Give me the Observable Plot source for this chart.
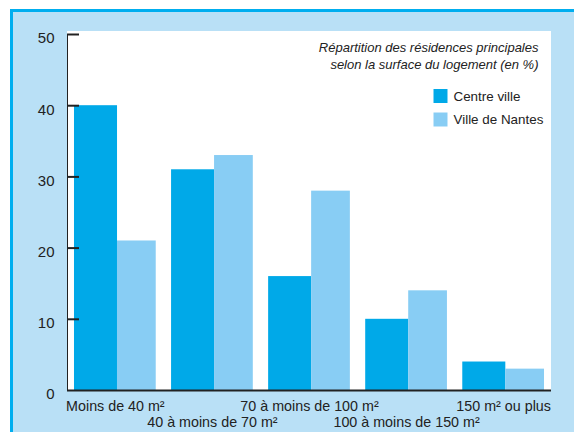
<!DOCTYPE html>
<html>
<head>
<meta charset="utf-8">
<script src="https://cdn.jsdelivr.net/npm/d3@7"></script>
<script src="https://cdn.jsdelivr.net/npm/@observablehq/plot@0.6"></script>
<style>
  html, body { margin: 0; padding: 0; background: #ffffff; }
  #wrap { position: relative; width: 574px; height: 432px; overflow: hidden; font-family: "Liberation Sans", Arial, sans-serif; }
  #frame { position: absolute; left: 10px; top: 9px; width: 600px; height: 460px; box-sizing: border-box;
           border-left: 3px solid #00aeef; border-top: 3px solid #00aeef; background: #b9e0f6; }
  #panel { position: absolute; left: 67px; top: 31px; width: 484px; height: 359px; background: #ffffff; }
  #chart { position: absolute; left: 0; top: 0; }
</style>
</head>
<body>
<div id="wrap">
  <div id="frame"></div>
  <div id="panel"></div>
  <div id="chart"></div>
</div>
<script>
const categories = ["Moins de 40 m²", "40 à moins de 70 m²", "70 à moins de 100 m²", "100 à moins de 150 m²", "150 m² ou plus"];
const centreVille = [40, 31, 16, 10, 4];
const villeDeNantes = [21, 33, 28, 14, 3];
const seriesNames = ["Centre ville", "Ville de Nantes"];
const yTicks = [0, 10, 20, 30, 40, 50];
const titleLines = ["Répartition des résidences principales", "selon la surface du logement (en %)"];

const darkBlue = "#00a9e8";
const lightBlue = "#88cdf4";
const ink = "#222222";

const centreData = categories.map((c, i) => ({cat: c, value: centreVille[i]}));
const nantesData = categories.map((c, i) => ({cat: c, value: villeDeNantes[i]}));
const row1 = categories.filter((c, i) => i % 2 === 0);
const row2 = categories.filter((c, i) => i % 2 === 1);

const chart = Plot.plot({
  width: 574,
  height: 432,
  marginLeft: 67,
  marginRight: 23,
  marginTop: 34,
  marginBottom: 42,
  style: {background: "transparent", fontFamily: "'Liberation Sans', Arial, sans-serif", fontSize: "14px", color: ink, overflow: "visible"},
  x: {domain: categories, paddingInner: 0.158, paddingOuter: 0.072, round: false, axis: null},
  y: {domain: [0, 50], ticks: yTicks, tickSize: 0, tickPadding: 13, tickFormat: () => "", line: true, label: null},
  marks: [
    Plot.barY(centreData, {x: "cat", y: "value", fill: darkBlue, insetRight: 38.7}),
    Plot.barY(nantesData, {x: "cat", y: "value", fill: lightBlue, insetLeft: 43}),
    Plot.ruleY([0], {stroke: ink, strokeWidth: 2}),
    Plot.ruleY(yTicks.filter(d => d > 0), {y: d => d, stroke: ink, strokeWidth: 2, insetRight: 472}),
    Plot.text(yTicks, {y: d => d, text: d => String(d), frameAnchor: "left", textAnchor: "end", lineAnchor: "middle", dx: -13, dy: 4, fill: ink, fontSize: 15}),
    Plot.text(row1, {x: d => d, text: d => d, frameAnchor: "bottom", lineAnchor: "middle", dy: 16, fill: ink, fontSize: 14.3}),
    Plot.text(row2, {x: d => d, text: d => d, frameAnchor: "bottom", lineAnchor: "middle", dy: 32, fill: ink, fontSize: 14.3}),
    Plot.text([titleLines[0]], {text: d => d, frameAnchor: "top-right", textAnchor: "end", lineAnchor: "middle", dx: -13, dy: 13, fill: ink, fontSize: 13, fontStyle: "italic"}),
    Plot.text([titleLines[1]], {text: d => d, frameAnchor: "top-right", textAnchor: "end", lineAnchor: "middle", dx: -13, dy: 30.5, fill: ink, fontSize: 13, fontStyle: "italic"}),
    Plot.dot([seriesNames[0]], {frameAnchor: "top-right", dx: -111, dy: 61.5, symbol: "square", r: 7.9, fill: darkBlue, stroke: null}),
    Plot.dot([seriesNames[1]], {frameAnchor: "top-right", dx: -111, dy: 85, symbol: "square", r: 7.9, fill: lightBlue, stroke: null}),
    Plot.text([seriesNames[0]], {text: d => d, frameAnchor: "top-right", textAnchor: "start", lineAnchor: "middle", dx: -98, dy: 62, fill: ink, fontSize: 13.4}),
    Plot.text([seriesNames[1]], {text: d => d, frameAnchor: "top-right", textAnchor: "start", lineAnchor: "middle", dx: -98, dy: 85, fill: ink, fontSize: 13.4})
  ]
});
chart.querySelectorAll("path.domain").forEach(p => { p.setAttribute("stroke-width", 2); p.setAttribute("stroke", ink); });
chart.querySelectorAll('g[aria-label^="y-axis"] line, g[aria-label^="y-axis"] path').forEach(p => { p.setAttribute("stroke-width", 2); p.setAttribute("stroke", ink); });
document.getElementById("chart").appendChild(chart);
</script>
</body>
</html>
